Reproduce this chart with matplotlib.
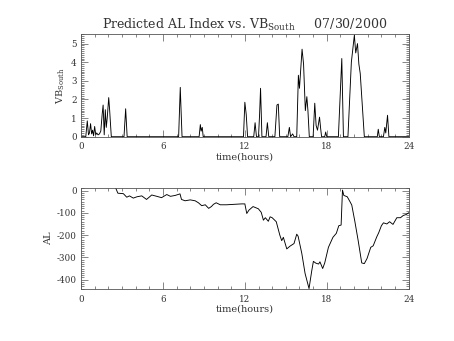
import matplotlib
matplotlib.use("Agg")
import matplotlib.pyplot as plt
from matplotlib.ticker import MultipleLocator, FixedLocator

plt.rcParams["font.family"] = ["DejaVu Serif"]
plt.rcParams["mathtext.fontset"] = "dejavuserif"
plt.rcParams["axes.unicode_minus"] = False

# Southward IMF driver VB_South (hours, value)
vb_time = [0.0, 0.35, 0.46, 0.55, 0.62, 0.70, 0.78, 0.85, 0.92, 1.00, 1.08, 1.15,
           1.25, 1.35, 1.45, 1.55, 1.62, 1.70, 1.78, 1.85, 1.92, 2.03, 2.10, 2.15,
           2.22, 3.15, 3.27, 3.38, 7.15, 7.27, 7.33, 7.40, 8.65, 8.74, 8.80, 8.88,
           8.95, 11.90, 12.00, 12.10, 12.20, 12.65, 12.75, 12.85, 13.00, 13.08,
           13.15, 13.25, 13.55, 13.65, 13.75, 14.20, 14.35, 14.45, 14.55, 15.15,
           15.26, 15.35, 15.50, 15.60, 15.80, 15.92, 16.00, 16.19, 16.30, 16.43,
           16.54, 16.62, 16.72, 17.00, 17.12, 17.22, 17.32, 17.47, 17.55, 17.62,
           17.85, 17.92, 18.00, 18.85, 19.10, 19.22, 19.55, 19.80, 20.02, 20.12,
           20.25, 20.35, 20.45, 20.75, 21.70, 21.77, 21.85, 22.15, 22.25, 22.32,
           22.45, 22.55, 24.0]
vb_south = [0.0, 0.0, 0.85, 0.1, 0.2, 0.7, 0.15, 0.35, 0.05, 0.55, 0.1, 0.2,
            0.1, 0.15, 0.3, 1.2, 1.7, 0.1, 1.45, 0.5, 1.0, 2.1, 1.4, 0.8,
            0.0, 0.0, 1.5, 0.0, 0.0, 2.65, 1.4, 0.0, 0.0, 0.65, 0.3, 0.5,
            0.0, 0.0, 1.85, 1.2, 0.0, 0.0, 0.75, 0.0, 0.0, 1.2,
            2.6, 0.0, 0.0, 0.75, 0.0, 0.0, 1.7, 1.75, 0.0, 0.0,
            0.5, 0.0, 0.15, 0.0, 0.0, 3.3, 2.6, 4.7, 3.9, 1.4,
            2.15, 1.4, 0.0, 0.0, 1.8, 0.6, 0.35, 1.05, 0.45, 0.0,
            0.0, 0.25, 0.0, 0.0, 4.2, 0.0, 0.0, 4.0, 5.45, 4.5,
            5.0, 3.9, 3.4, 0.0, 0.0, 0.4, 0.0, 0.0, 0.5, 0.2,
            1.15, 0.0, 0.0]

# Predicted AL index (hours, nT)
al_time = [2.55, 2.70, 3.10, 3.35, 3.55, 3.83, 4.10, 4.45, 4.80, 5.18, 5.55, 5.90,
           6.28, 6.55, 6.90, 7.25, 7.36, 7.62, 8.00, 8.36, 8.60, 8.84, 9.10, 9.35,
           9.55, 9.70, 9.90, 10.20, 10.66, 11.20, 11.77, 12.00, 12.14, 12.30, 12.60,
           12.99, 13.20, 13.36, 13.50, 13.72, 13.85, 14.00, 14.30, 14.56, 14.70,
           14.82, 15.07, 15.30, 15.60, 15.80, 15.90, 16.17, 16.41, 16.70, 16.90,
           17.02, 17.20, 17.40, 17.50, 17.70, 17.85, 18.12, 18.45, 18.70, 18.88,
           19.05, 19.15, 19.25, 19.50, 19.70, 19.83, 20.06, 20.30, 20.56, 20.75,
           20.95, 21.22, 21.40, 21.66, 21.80, 22.00, 22.15, 22.40, 22.60, 22.85,
           23.13, 23.40, 23.60, 23.80, 24.00]
al_index = [10, -12, -14, -30, -24, -34, -28, -24, -40, -20, -26, -32,
            -18, -26, -22, -15, -40, -46, -42, -46, -55, -68, -64, -80,
            -72, -62, -55, -64, -64, -62, -60, -60, -103, -88, -72,
            -82, -98, -133, -122, -138, -118, -122, -140, -200, -225,
            -210, -262, -250, -238, -196, -205, -282, -372, -440, -360,
            -318, -326, -330, -320, -350, -325, -255, -210, -192, -158,
            -155, 2, -22, -28, -50, -65, -140, -225, -325, -328,
            -305, -255, -248, -208, -190, -158, -145, -150, -140, -152,
            -122, -122, -112, -108, -100]

hour_ticks = [0, 6, 12, 18, 24]

W, H = 454, 341
fig = plt.figure(figsize=(W / 100, H / 100), dpi=100)
ax1 = fig.add_axes([81 / W, 1 - 136.7 / H, 327.7 / W, 102.4 / H])
ax2 = fig.add_axes([81 / W, 1 - 289 / H, 327.7 / W, 100.7 / H])

tick_fs = 6.3
text_col = "#333333"
for ax in (ax1, ax2):
    ax.set_xlim(0, 24)
    ax.xaxis.set_major_locator(FixedLocator(hour_ticks))
    ax.xaxis.set_minor_locator(MultipleLocator(1))
    ax.tick_params(which="both", direction="in", top=True, right=True,
                   labelsize=tick_fs, width=0.5, colors="#555555",
                   labelcolor=text_col)
    ax.tick_params(which="major", length=5, pad=4)
    ax.tick_params(which="minor", length=2.5)
    ax.tick_params(axis="y", which="minor", length=2)
    ax.tick_params(axis="y", which="major", pad=3)
    for s in ax.spines.values():
        s.set_linewidth(0.6)
        s.set_color("#555555")
    ax.set_xlabel("time(hours)", fontsize=7, labelpad=1, color=text_col)

ax1.plot(vb_time, vb_south, color="black", lw=0.65)
ax1.set_ylim(0, 5.5)
ax1.yaxis.set_major_locator(MultipleLocator(1))
ax1.yaxis.set_minor_locator(MultipleLocator(0.1))
ax1.set_ylabel("VB$_{\\mathregular{South}}$", fontsize=7, labelpad=3, color=text_col)
ax1.set_title("Predicted AL Index vs. VB$_{\\mathregular{South}}$     07/30/2000",
              fontsize=9, pad=4, color=text_col)

ax2.plot(al_time, al_index, color="black", lw=0.65)
ax2.set_ylim(-442, 10)
ax2.yaxis.set_major_locator(MultipleLocator(100))
ax2.yaxis.set_minor_locator(MultipleLocator(10))
ax2.set_ylabel("AL", fontsize=7, labelpad=3, color=text_col)

fig.savefig("out.png", dpi=100)
